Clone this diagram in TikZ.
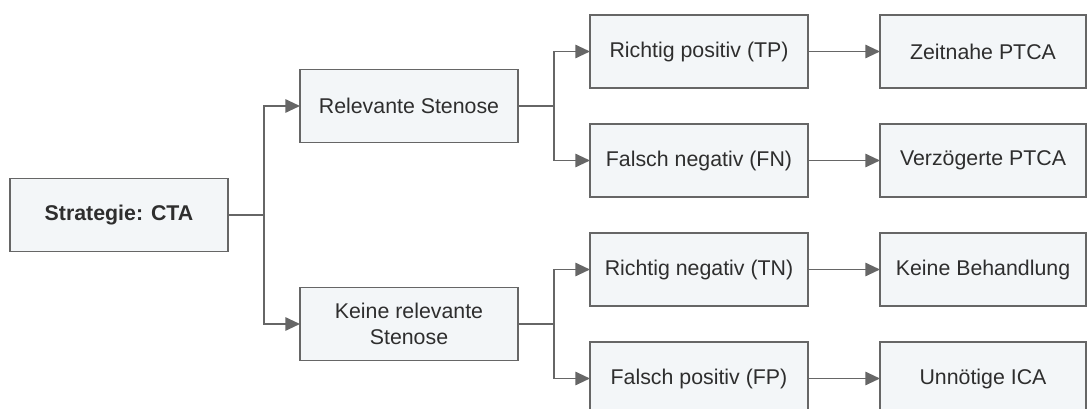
\documentclass[tikz,border=0pt]{standalone}
\usepackage{fontspec}
\setmainfont{Liberation Sans}
\usepackage{xcolor}
\usetikzlibrary{arrows.meta,positioning,calc}
\definecolor{boxfill}{HTML}{F3F6F8}
\definecolor{boxline}{HTML}{666666}
\definecolor{boxtext}{HTML}{2E2E2E}

\begin{document}
\begin{tikzpicture}[
x=0.75pt, y=-0.75pt,
node distance=27pt and 54pt,
box/.style={draw=boxline, line width=1.4pt, fill=boxfill, text=boxtext, minimum width=163.5pt, minimum height=54.75pt, align=center, inner sep=0pt, outer sep=0pt, font=\fontsize{16}{19.5}\selectfont},
endbox/.style={box, minimum width=154.5pt},
arr/.style={-{Triangle[length=11pt,width=10pt]}, draw=boxline, line width=1.4pt}
]
\useasboundingbox (0,0) rectangle (1087,409);
% test outcomes
\node[box] (tp) at (699,51.5) {Richtig positiv (TP)};
\node[box, below=of tp] (fn) {Falsch negativ (FN)};
\node[box, below=of fn] (tn) {Richtig negativ (TN)};
\node[box, below=of tn] (fp) {Falsch positiv (FP)};
% findings and strategy
\node[box, left=of {$(tp.west)!0.5!(fn.west)$}] (rel) {Relevante Stenose};
\node[box, left=of {$(tn.west)!0.5!(fp.west)$}] (norel) {Keine relevante\\Stenose};
\node[box, left=of {$(rel.west)!0.5!(norel.west)$}, font=\fontsize{16}{19.5}\selectfont\bfseries] (cta) {Strategie: CTA};
% consequences
\node[endbox, right=of tp] (ptca) {Zeitnahe PTCA};
\node[endbox, right=of fn] (late) {Verzögerte PTCA};
\node[endbox, right=of tn] (none) {Keine Behandlung};
\node[endbox, right=of fp] (ica) {Unnötige ICA};

\draw[arr] (cta.east) -- ++(36,0) |- (rel.west);
\draw[arr] (cta.east) -- ++(36,0) |- (norel.west);
\draw[arr] (rel.east) -- ++(36,0) |- (tp.west);
\draw[arr] (rel.east) -- ++(36,0) |- (fn.west);
\draw[arr] (norel.east) -- ++(36,0) |- (tn.west);
\draw[arr] (norel.east) -- ++(36,0) |- (fp.west);
\draw[arr] (tp) -- (ptca);
\draw[arr] (fn) -- (late);
\draw[arr] (tn) -- (none);
\draw[arr] (fp) -- (ica);
\end{tikzpicture}
\end{document}
